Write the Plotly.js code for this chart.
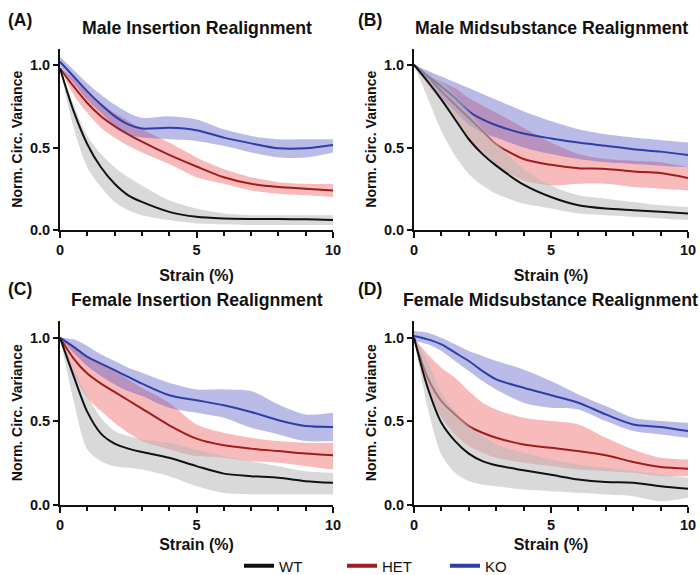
<!DOCTYPE html>
<html><head><meta charset="utf-8">
<script src="https://cdn.plot.ly/plotly-3.0.1.min.js"></script>
<style>html,body{margin:0;padding:0;background:#fff}#chart{width:700px;height:575px}</style>
</head><body><div id="chart"></div>
<script>
// ---- data ----
const strain = [0,0.5,1,1.5,2,2.5,3,4,5,6,7,8,9,10];
const groups = ['WT','HET','KO'];
const drawOrder = ['HET','KO','WT'];
const panelTitles = ['Male Insertion Realignment','Male Midsubstance Realignment','Female Insertion Realignment','Female Midsubstance Realignment'];
const panelLabels = ['(A)','(B)','(C)','(D)'];
const xTitle = 'Strain (%)';
const yTitle = 'Norm. Circ. Variance';

// (A) Male insertion
const aWTmean = [0.98,0.72,0.52,0.38,0.28,0.21,0.17,0.11,0.08,0.07,0.067,0.066,0.065,0.06];
const aWTup   = [0.98,0.76,0.57,0.46,0.38,0.32,0.27,0.18,0.13,0.10,0.09,0.09,0.09,0.09];
const aWTlo   = [0.98,0.62,0.38,0.26,0.17,0.12,0.09,0.06,0.04,0.035,0.03,0.03,0.03,0.03];
const aHETmean = [0.98,0.87,0.77,0.69,0.63,0.58,0.535,0.455,0.385,0.32,0.28,0.26,0.25,0.24];
const aHETup   = [0.98,0.92,0.84,0.77,0.71,0.66,0.61,0.53,0.44,0.37,0.32,0.29,0.28,0.28];
const aHETlo   = [0.98,0.82,0.71,0.62,0.56,0.51,0.47,0.40,0.32,0.28,0.24,0.22,0.21,0.20];
const aKOmean = [1.02,0.93,0.84,0.76,0.69,0.64,0.615,0.62,0.605,0.56,0.525,0.495,0.495,0.515];
const aKOup   = [1.05,0.97,0.89,0.82,0.76,0.71,0.68,0.69,0.67,0.61,0.57,0.55,0.55,0.55];
const aKOlo   = [0.99,0.89,0.79,0.71,0.63,0.58,0.56,0.55,0.54,0.51,0.47,0.44,0.44,0.47];

// (B) Male midsubstance
const bWTmean = [1.0,0.90,0.79,0.67,0.55,0.46,0.39,0.275,0.20,0.15,0.13,0.12,0.11,0.10];
const bWTup   = [1.0,0.96,0.90,0.82,0.72,0.62,0.53,0.37,0.27,0.21,0.19,0.17,0.15,0.14];
const bWTlo   = [1.0,0.80,0.60,0.45,0.34,0.27,0.22,0.16,0.13,0.10,0.09,0.08,0.07,0.06];
const bHETmean = [1.0,0.93,0.84,0.76,0.68,0.60,0.52,0.43,0.395,0.375,0.37,0.355,0.345,0.315];
const bHETup   = [1.0,0.94,0.90,0.86,0.80,0.755,0.71,0.62,0.53,0.46,0.43,0.42,0.41,0.38];
const bHETlo   = [1.0,0.88,0.78,0.66,0.55,0.46,0.39,0.30,0.27,0.28,0.28,0.26,0.25,0.24];
const bKOmean = [1.0,0.935,0.87,0.80,0.72,0.67,0.635,0.585,0.555,0.53,0.51,0.49,0.475,0.455];
const bKOup   = [1.0,0.965,0.93,0.895,0.86,0.825,0.79,0.72,0.66,0.61,0.58,0.56,0.545,0.53];
const bKOlo   = [1.0,0.90,0.80,0.72,0.64,0.59,0.56,0.50,0.46,0.43,0.41,0.40,0.39,0.38];

// (C) Female insertion
const cWTmean = [1.0,0.77,0.555,0.425,0.365,0.335,0.315,0.28,0.23,0.185,0.17,0.16,0.14,0.13];
const cWTup   = [1.0,0.82,0.65,0.52,0.44,0.41,0.39,0.37,0.33,0.29,0.26,0.23,0.20,0.19];
const cWTlo   = [1.0,0.62,0.33,0.26,0.23,0.22,0.21,0.17,0.11,0.07,0.06,0.06,0.06,0.06];
const cHETmean = [1.0,0.875,0.785,0.725,0.675,0.625,0.575,0.475,0.395,0.355,0.335,0.32,0.305,0.295];
const cHETup   = [1.0,0.95,0.89,0.84,0.80,0.75,0.70,0.61,0.48,0.43,0.40,0.38,0.37,0.37];
const cHETlo   = [1.0,0.78,0.64,0.56,0.49,0.43,0.38,0.33,0.29,0.28,0.26,0.25,0.23,0.21];
const cKOmean = [1.0,0.945,0.885,0.845,0.805,0.765,0.725,0.655,0.625,0.595,0.555,0.505,0.47,0.465];
const cKOup   = [1.0,0.99,0.95,0.90,0.86,0.82,0.79,0.73,0.69,0.69,0.68,0.60,0.54,0.55];
const cKOlo   = [1.0,0.91,0.83,0.77,0.72,0.68,0.65,0.58,0.55,0.52,0.46,0.42,0.38,0.38];

// (D) Female midsubstance
const dWTmean = [1.0,0.70,0.49,0.38,0.305,0.26,0.235,0.205,0.178,0.15,0.135,0.13,0.11,0.095];
const dWTup   = [1.0,0.86,0.67,0.56,0.47,0.41,0.36,0.31,0.27,0.24,0.22,0.20,0.18,0.16];
const dWTlo   = [1.0,0.58,0.30,0.19,0.14,0.12,0.11,0.09,0.08,0.07,0.06,0.05,0.02,0.04];
const dHETmean = [1.0,0.76,0.62,0.54,0.47,0.43,0.40,0.36,0.34,0.32,0.295,0.255,0.225,0.215];
const dHETup   = [1.0,0.90,0.82,0.76,0.68,0.61,0.57,0.52,0.50,0.48,0.40,0.33,0.28,0.27];
const dHETlo   = [1.0,0.68,0.52,0.42,0.35,0.31,0.28,0.25,0.23,0.21,0.20,0.19,0.17,0.17];
const dKOmean = [1.01,0.99,0.96,0.91,0.86,0.80,0.75,0.70,0.655,0.61,0.54,0.48,0.465,0.44];
const dKOup   = [1.04,1.03,1.00,0.96,0.92,0.89,0.86,0.81,0.74,0.66,0.59,0.52,0.50,0.49];
const dKOlo   = [0.98,0.96,0.92,0.86,0.80,0.74,0.69,0.61,0.58,0.57,0.50,0.44,0.42,0.40];

// ---- styling ----
const F = '"Liberation Sans", Arial, Helvetica, sans-serif';
const INK = '#111';
const lineColors = {WT:'#111111', HET:'#a01c1f', KO:'#2d3ea8'};
const bandColors = {WT:'rgba(185,185,185,0.55)', HET:'rgba(238,85,85,0.40)', KO:'rgba(85,85,195,0.40)'};

const panels = [
  {WT:[aWTmean,aWTup,aWTlo], HET:[aHETmean,aHETup,aHETlo], KO:[aKOmean,aKOup,aKOlo]},
  {WT:[bWTmean,bWTup,bWTlo], HET:[bHETmean,bHETup,bHETlo], KO:[bKOmean,bKOup,bKOlo]},
  {WT:[cWTmean,cWTup,cWTlo], HET:[cHETmean,cHETup,cHETlo], KO:[cKOmean,cKOup,cKOlo]},
  {WT:[dWTmean,dWTup,dWTlo], HET:[dHETmean,dHETup,dHETlo], KO:[dKOmean,dKOup,dKOlo]}
];

const traces = [];
panels.forEach((p, i) => {
  const xa = 'x' + (i ? i + 1 : '');
  const ya = 'y' + (i ? i + 1 : '');
  drawOrder.forEach(g => {
    const [m, up, lo] = p[g];
    traces.push({x: strain, y: lo, xaxis: xa, yaxis: ya, type: 'scatter', mode: 'lines',
      line: {width: 0, shape: 'spline', smoothing: 0.8}, showlegend: false, hoverinfo: 'skip'});
    traces.push({x: strain, y: up, xaxis: xa, yaxis: ya, type: 'scatter', mode: 'lines',
      fill: 'tonexty', fillcolor: bandColors[g],
      line: {width: 0, shape: 'spline', smoothing: 0.8}, showlegend: false, hoverinfo: 'skip'});
    traces.push({x: strain, y: m, xaxis: xa, yaxis: ya, type: 'scatter', mode: 'lines',
      name: g, line: {color: lineColors[g], width: 2, shape: 'spline', smoothing: 0.8}, showlegend: false});
  });
});
// legend entries (thicker keys as in the reference)
groups.forEach(g => {
  traces.push({x: [null], y: [null], type: 'scatter', mode: 'lines', name: g,
    line: {color: lineColors[g], width: 4}, showlegend: true});
});

const tickFont = {family: F, size: 14.5, color: INK, weight: 'bold'};
function xax(domain, anchor, standoff) {
  return {domain, anchor, range: [0, 10], tickmode: 'linear', tick0: 0, dtick: 5,
    ticks: 'outside', ticklen: 6, tickwidth: 2, tickcolor: INK,
    minor: {tickmode: 'linear', tick0: 0, dtick: 1, ticks: 'outside', ticklen: 4, tickwidth: 2, tickcolor: INK, showgrid: false},
    showline: true, linewidth: 2, linecolor: INK, showgrid: false, zeroline: false, automargin: false,
    tickfont: tickFont, title: {text: xTitle, font: {family: F, size: 16, color: INK, weight: 'bold'}, standoff}, fixedrange: true};
}
function yax(domain, anchor) {
  return {domain, anchor, range: [0, 1.1], tickmode: 'linear', tick0: 0, dtick: 0.5, tickformat: '.1f',
    ticks: 'outside', ticklen: 5, tickwidth: 2, tickcolor: INK,
    showline: true, linewidth: 2, linecolor: INK, showgrid: false, zeroline: false, automargin: false,
    tickfont: tickFont, title: {text: yTitle, font: {family: F, size: 14, color: INK, weight: 'bold'}, standoff: 4}, fixedrange: true};
}

const W = 700, H = 575;
const colX = [[60/W, 333/W], [414/W, 688/W]];
const rowY = [[1 - 230/H, 1 - 48.5/H], [1 - 504.5/H, 1 - 321/H]];
const titlePos = [[197, 28], [551, 28], [197, 300], [550, 300]];
const labelPos = [[20, 20], [370, 20], [20, 289], [370, 289]];

const annotations = [];
panelTitles.forEach((t, i) => {
  annotations.push({text: t, xref: 'paper', yref: 'paper', x: titlePos[i][0]/W, y: 1 - titlePos[i][1]/H,
    xanchor: 'center', yanchor: 'middle', showarrow: false, font: {family: F, size: 17.7, color: INK, weight: 'bold'}});
  annotations.push({text: panelLabels[i], xref: 'paper', yref: 'paper', x: labelPos[i][0]/W, y: 1 - labelPos[i][1]/H,
    xanchor: 'center', yanchor: 'middle', showarrow: false, font: {family: F, size: 17.5, color: INK, weight: 'bold'}});
});

const layout = {
  width: W, height: H, margin: {l: 0, r: 0, t: 0, b: 0, autoexpand: false},
  paper_bgcolor: '#fff', plot_bgcolor: '#fff',
  font: {family: F, color: INK},
  xaxis: xax(colX[0], 'y', 12), yaxis: yax(rowY[0], 'x'),
  xaxis2: xax(colX[1], 'y2', 12), yaxis2: yax(rowY[0], 'x2'),
  xaxis3: xax(colX[0], 'y3', 7), yaxis3: yax(rowY[1], 'x3'),
  xaxis4: xax(colX[1], 'y4', 7), yaxis4: yax(rowY[1], 'x4'),
  showlegend: true,
  legend: {orientation: 'h', traceorder: 'normal', x: 239/W, xanchor: 'left', y: 1 - 566/H, yanchor: 'middle',
    font: {family: F, size: 15, color: INK}, entrywidth: 58, entrywidthmode: 'pixels',
    bgcolor: 'rgba(0,0,0,0)', itemwidth: 30},
  annotations
};

Plotly.newPlot('chart', traces, layout, {displayModeBar: false, staticPlot: true});
</script>
</body></html>
